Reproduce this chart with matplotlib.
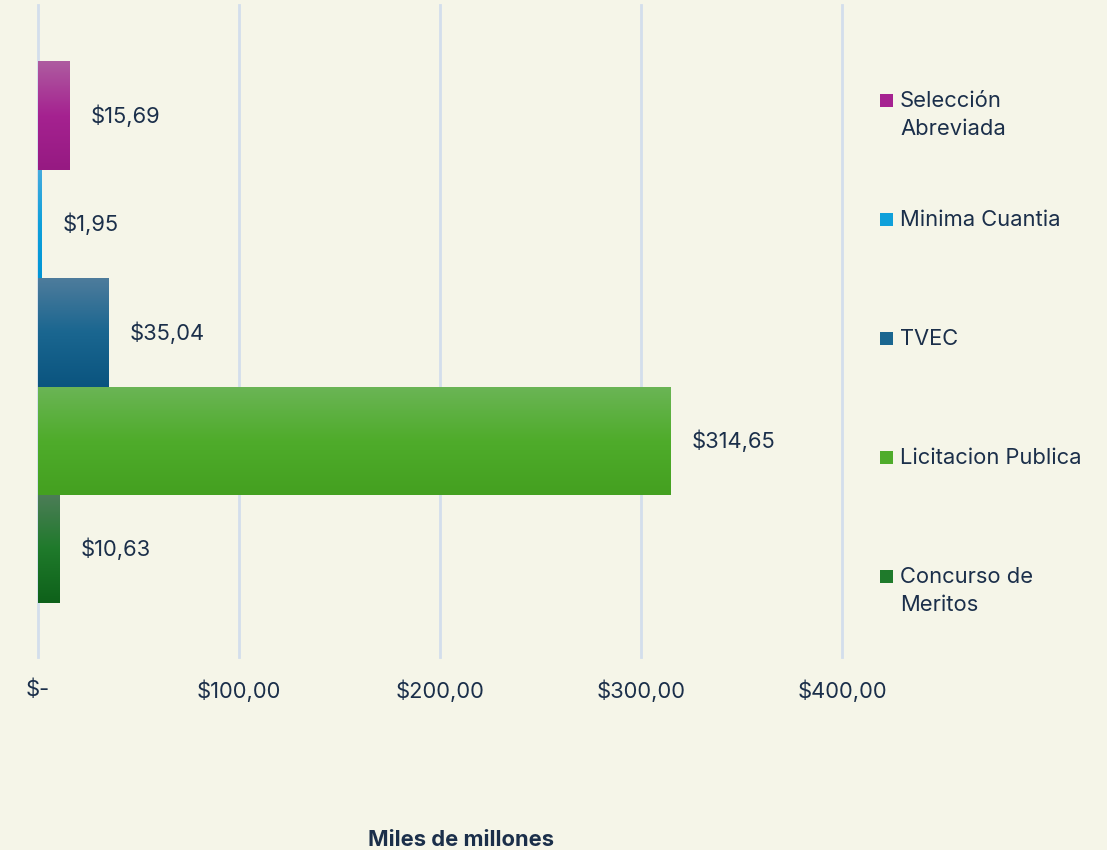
import matplotlib.pyplot as plt
import numpy as np
from matplotlib.colors import LinearSegmentedColormap
from matplotlib.patches import Rectangle

plt.rcParams["font.family"] = ["Inter", "DejaVu Sans"]

categories = ["Selección\nAbreviada", "Minima Cuantia", "TVEC", "Licitacion Publica", "Concurso de\nMeritos"]
values = [15.69, 1.95, 35.04, 314.65, 10.63]
value_labels = ["$15,69", "$1,95", "$35,04", "$314,65", "$10,63"]
x_ticks = [0, 100, 200, 300, 400]
x_tick_labels = ["$-", "$100,00", "$200,00", "$300,00", "$400,00"]

# (top, middle, bottom) gradient stops per bar
gradients = [
    ("#AE5CA0", "#A52290", "#961A82"),
    ("#45ABDD", "#0FA0DA", "#0095D5"),
    ("#4E7C9C", "#1A6690", "#0A547F"),
    ("#6BB556", "#4FAC2B", "#44A020"),
    ("#4D7D58", "#1F7A2B", "#0E611A"),
]

BG = "#F5F5E8"
TEXT = "#1B2F4A"
FS = 15.8

fig = plt.figure(figsize=(11.07, 8.5), dpi=100, facecolor=BG)
ax = fig.add_axes([0.0343, 0.2271, 0.7263, 0.767])
ax.set_facecolor(BG)

y_pos = np.arange(len(values))[::-1]
bars = ax.barh(y_pos, values, height=1.0, color="none", zorder=3)

grad = np.linspace(0, 1, 256).reshape(-1, 1)
for bar, stops in zip(bars, gradients):
    cmap = LinearSegmentedColormap.from_list("g", list(stops))
    x0, y0 = bar.get_x(), bar.get_y()
    w, h = bar.get_width(), bar.get_height()
    im = ax.imshow(grad, cmap=cmap, aspect="auto", extent=(x0, x0 + w, y0, y0 + h),
                   origin="upper", zorder=3)
    im.set_clip_path(bar)

for y, v, lab in zip(y_pos, values, value_labels):
    ax.annotate(lab, (v, y), xytext=(21, 0), textcoords="offset pixels",
                ha="left", va="center", fontsize=FS, color=TEXT)

ax.set_xlim(0, 400)
ax.set_ylim(-0.995, 5.02)
ax.set_xticks(x_ticks)
ax.set_xticklabels(x_tick_labels, fontsize=FS, color=TEXT)
ax.set_yticks([])
ax.tick_params(axis="x", length=0, pad=16)
ax.grid(axis="x", color="#D3DEEC", linewidth=2, zorder=0)
for gl in ax.get_xgridlines():
    gl.set_clip_on(False)
for s in ax.spines.values():
    s.set_visible(False)

# legend drawn by hand to keep entries level with the bars
W, H = 1107, 850
leg_y = [100, 219, 338, 457, 576]
for label, stops, py in zip(categories, gradients, leg_y):
    fig.patches.append(Rectangle((880 / W, 1 - (py + 7) / H), 13 / W, 13 / H,
                                 transform=fig.transFigure, facecolor=stops[1],
                                 edgecolor="none"))
    fig.text(900 / W, 1 - (py - 9) / H, label, ha="left", va="top",
             fontsize=FS, color=TEXT, linespacing=1.52)

fig.text(461 / W, 1 - 840 / H, "Miles de millones", ha="center", va="center",
         fontsize=FS, fontweight="bold", color=TEXT)

fig.savefig("out.png", dpi=100, facecolor=BG)
